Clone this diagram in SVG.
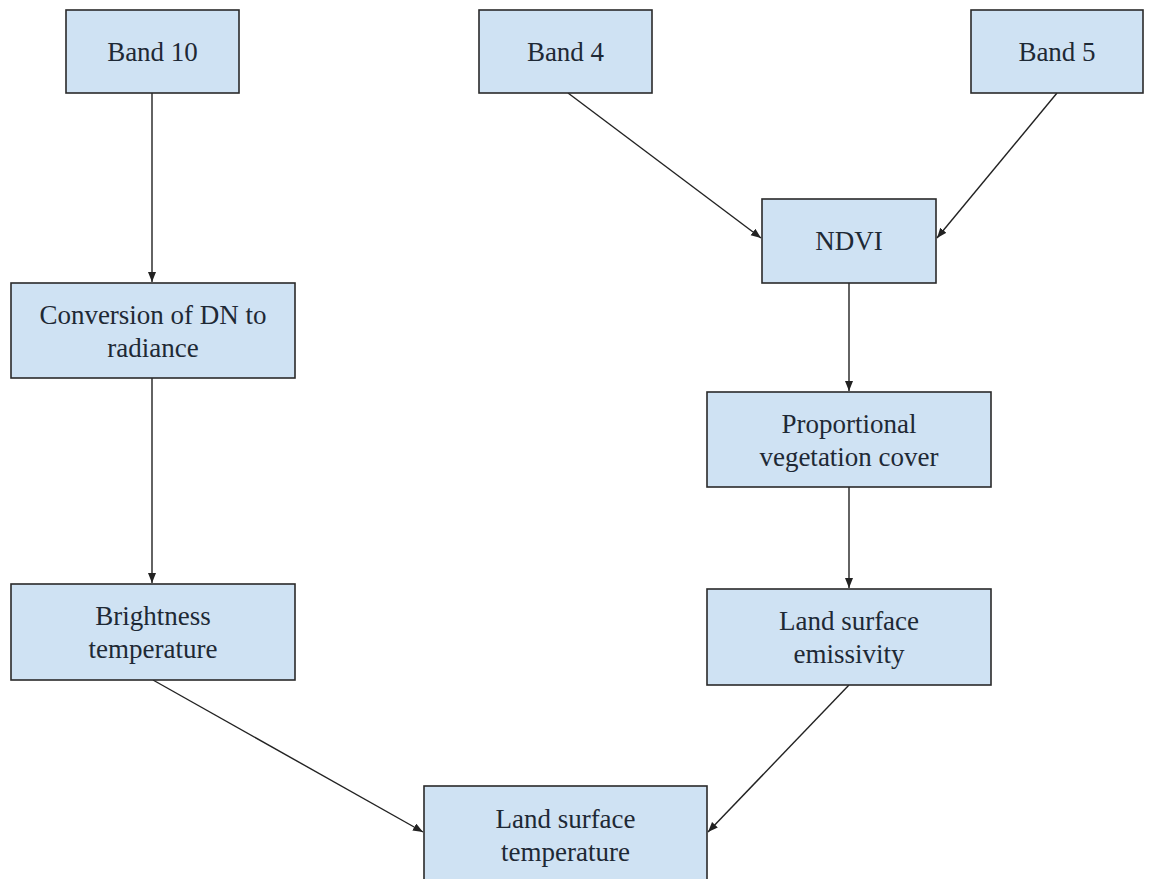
<svg xmlns="http://www.w3.org/2000/svg" width="1152" height="879" viewBox="0 0 1152 879">
<style>
.box{fill:#cfe2f3;stroke:#2a2a2a;stroke-width:1.6}
.t{font-family:"Liberation Serif","Times New Roman",Tinos,"Noto Serif","DejaVu Serif",serif;font-size:27px;fill:#1e2935;text-anchor:middle}
.c{fill:none;stroke:#222;stroke-width:1.4}
</style>
<defs>
<marker id="ah" markerUnits="userSpaceOnUse" markerWidth="12" markerHeight="10" refX="10" refY="4" orient="auto">
<path d="M0,0 L10,4 L0,8 Z" fill="#222"/>
</marker>
</defs>
<rect width="1152" height="879" fill="#ffffff"/>
<g id="connectors">
<line class="c" x1="152" y1="93" x2="152" y2="282" marker-end="url(#ah)"/>
<line class="c" x1="152" y1="378" x2="152" y2="583" marker-end="url(#ah)"/>
<line class="c" x1="568" y1="93" x2="761" y2="238" marker-end="url(#ah)"/>
<line class="c" x1="1057" y1="93" x2="937" y2="238" marker-end="url(#ah)"/>
<line class="c" x1="849" y1="283" x2="849" y2="391" marker-end="url(#ah)"/>
<line class="c" x1="849" y1="487" x2="849" y2="588" marker-end="url(#ah)"/>
<line class="c" x1="153" y1="680" x2="423" y2="832" marker-end="url(#ah)"/>
<line class="c" x1="849" y1="685" x2="708" y2="832" marker-end="url(#ah)"/>
</g>
<g id="band10">
<rect class="box" x="66" y="10" width="173" height="83"/>
<text class="t" x="152.5" y="61">Band 10</text>
</g>
<g id="band4">
<rect class="box" x="479" y="10" width="173" height="83"/>
<text class="t" x="565.5" y="61">Band 4</text>
</g>
<g id="band5">
<rect class="box" x="971" y="10" width="172" height="83"/>
<text class="t" x="1057" y="61">Band 5</text>
</g>
<g id="ndvi">
<rect class="box" x="762" y="199" width="174" height="84"/>
<text class="t" x="849" y="250">NDVI</text>
</g>
<g id="conversion">
<rect class="box" x="11" y="283" width="284" height="95"/>
<text class="t" x="153" y="324">Conversion of DN to</text>
<text class="t" x="153" y="357">radiance</text>
</g>
<g id="proportional">
<rect class="box" x="707" y="392" width="284" height="95"/>
<text class="t" x="849" y="433">Proportional</text>
<text class="t" x="849" y="466">vegetation cover</text>
</g>
<g id="brightness">
<rect class="box" x="11" y="584" width="284" height="96"/>
<text class="t" x="153" y="625">Brightness</text>
<text class="t" x="153" y="658">temperature</text>
</g>
<g id="emissivity">
<rect class="box" x="707" y="589" width="284" height="96"/>
<text class="t" x="849" y="630">Land surface</text>
<text class="t" x="849" y="663">emissivity</text>
</g>
<g id="lst">
<rect class="box" x="424" y="786" width="283" height="110"/>
<text class="t" x="565.5" y="828">Land surface</text>
<text class="t" x="565.5" y="861">temperature</text>
</g>
</svg>
